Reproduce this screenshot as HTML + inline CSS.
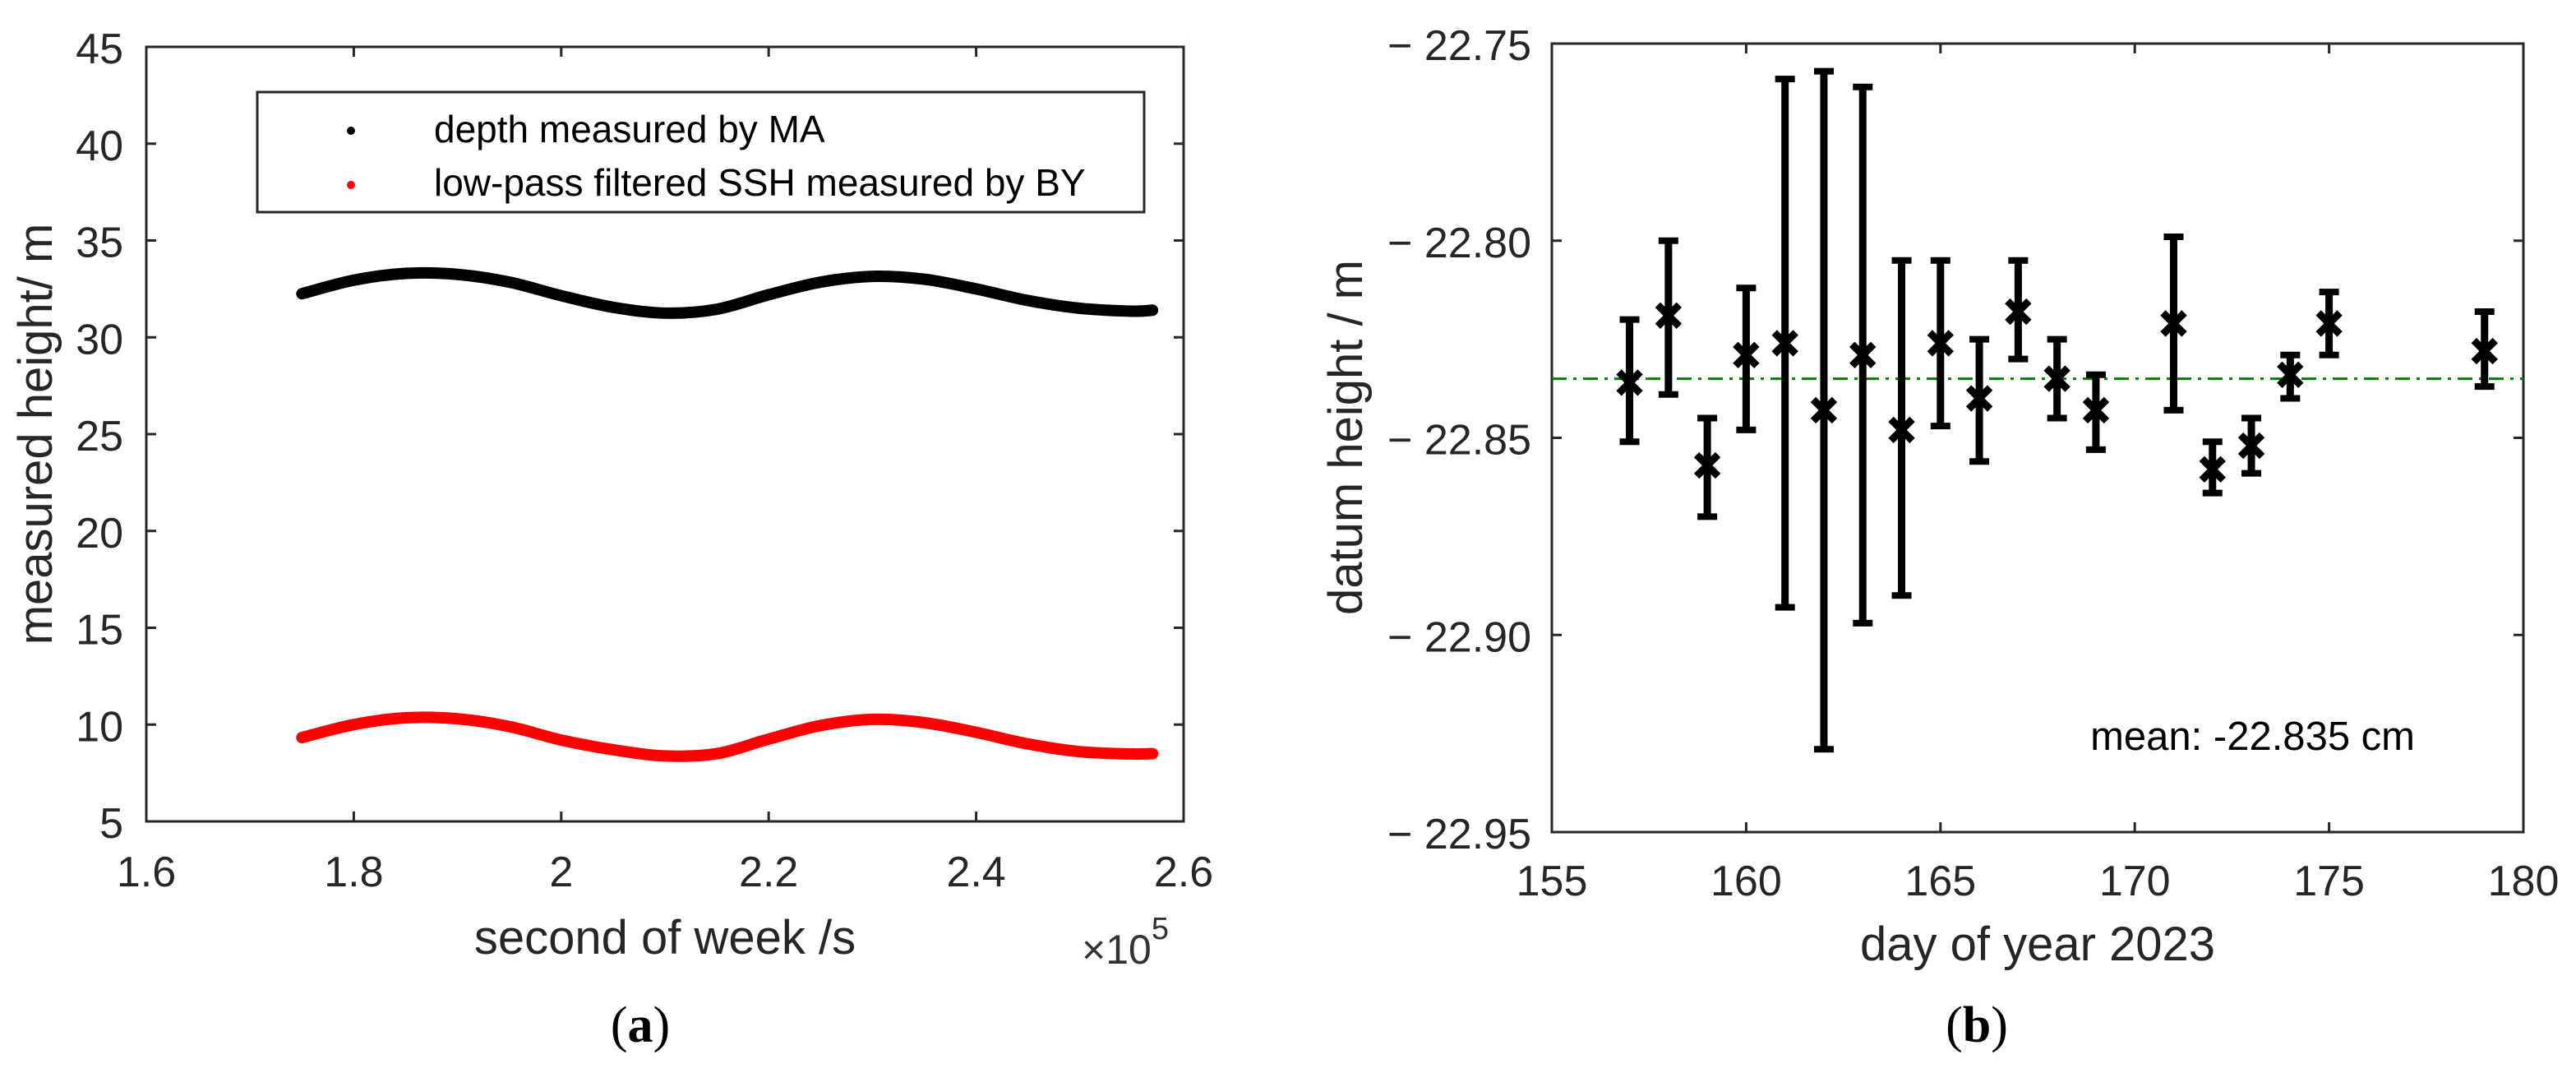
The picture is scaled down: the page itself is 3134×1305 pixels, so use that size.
<!DOCTYPE html>
<html><head><meta charset="utf-8"><style>
html,body{margin:0;padding:0;background:#fff;}
svg{display:block;}
text{font-family:"Liberation Sans",Arial,sans-serif;}
</style></head>
<body>
<svg id="fig" width="3134" height="1305" viewBox="0 0 3134 1305" xmlns="http://www.w3.org/2000/svg">
<rect width="3134" height="1305" fill="#fff"/>
<g id="chartA"></g>
<g id="chartB"></g>
</svg>
<script>
// ---- Chart (a) data ----
const secX = [1.75,1.80,1.85,1.90,1.95,2.00,2.05,2.10,2.15,2.20,2.25,2.30,2.35,2.40,2.45,2.50,2.55,2.57];
const depthMA = [32.25,32.95,33.3,33.25,32.85,32.15,31.55,31.25,31.45,32.2,32.85,33.15,33.0,32.5,31.9,31.5,31.35,31.4];
const sshBY = [9.33,10.0,10.35,10.3,9.9,9.2,8.7,8.38,8.5,9.25,9.95,10.27,10.1,9.6,9.0,8.6,8.48,8.5];
const aXTicks = [1.6,1.8,2,2.2,2.4,2.6];
const aXTickLabels = ["1.6","1.8","2","2.2","2.4","2.6"];
const aYTicks = [5,10,15,20,25,30,35,40,45];
const aYTickLabels = ["5","10","15","20","25","30","35","40","45"];
// ---- Chart (b) data ----
const days = [157,158,159,160,161,162,163,164,165,166,167,168,169,171,172,173,174,175,179];
const datum = [-22.836,-22.819,-22.857,-22.829,-22.826,-22.843,-22.829,-22.848,-22.826,-22.840,-22.818,-22.835,-22.843,-22.821,-22.858,-22.852,-22.834,-22.821,-22.828];
const errTop = [-22.820,-22.800,-22.845,-22.812,-22.759,-22.757,-22.761,-22.805,-22.805,-22.825,-22.805,-22.825,-22.834,-22.799,-22.851,-22.845,-22.829,-22.813,-22.818];
const errBot = [-22.851,-22.839,-22.870,-22.848,-22.893,-22.929,-22.897,-22.890,-22.847,-22.856,-22.830,-22.845,-22.853,-22.843,-22.864,-22.859,-22.840,-22.829,-22.837];
const meanVal = [-22.835];
const bXTicks = [155,160,165,170,175,180];
const bXTickLabels = ["155","160","165","170","175","180"];
const bYTicks = [-22.75,-22.80,-22.85,-22.90,-22.95];
const bYTickLabels = ["\u2212 22.75","\u2212 22.80","\u2212 22.85","\u2212 22.90","\u2212 22.95"];

const NS="http://www.w3.org/2000/svg";
function mk(parent,tag,attrs,txt){const e=document.createElementNS(NS,tag);for(const k in attrs)e.setAttribute(k,attrs[k]);if(txt!==undefined)e.textContent=txt;parent.appendChild(e);return e;}
const AX="#262626";

// ---------- Chart A ----------
(function(){
const g=document.getElementById('chartA');
const L=178,R=1440,T=57,B=999;
const xs=v=>L+(v-1.6)/(2.6-1.6)*(R-L);
const ys=v=>B-(v-5)/(45-5)*(B-T);
function smooth(xa,ya){
  const p=xa.map((x,i)=>[xs(x),ys(ya[i])]);
  let d="M"+p[0][0]+","+p[0][1];
  for(let i=0;i<p.length-1;i++){
    const p0=p[Math.max(0,i-1)],p1=p[i],p2=p[i+1],p3=p[Math.min(p.length-1,i+2)];
    const c1=[p1[0]+(p2[0]-p0[0])/6,p1[1]+(p2[1]-p0[1])/6];
    const c2=[p2[0]-(p3[0]-p1[0])/6,p2[1]-(p3[1]-p1[1])/6];
    d+=" C"+c1[0]+","+c1[1]+" "+c2[0]+","+c2[1]+" "+p2[0]+","+p2[1];
  }
  return d;
}
const s1=mk(g,'path',{d:smooth(secX,depthMA),fill:'none',stroke:'#000','stroke-width':14,'stroke-linecap':'round'});


const s2=mk(g,'path',{d:smooth(secX,sshBY),fill:'none',stroke:'#ff0000','stroke-width':14,'stroke-linecap':'round'});


const box=mk(g,'rect',{x:L,y:T,width:R-L,height:B-T,fill:'none',stroke:AX,'stroke-width':3});


aXTicks.forEach((v,i)=>{
  const x=xs(v);
  mk(g,'line',{x1:x,y1:B,x2:x,y2:B-12,stroke:AX,'stroke-width':3});
  mk(g,'line',{x1:x,y1:T,x2:x,y2:T+12,stroke:AX,'stroke-width':3});
  const t=mk(g,'text',{x:x,y:1078,'text-anchor':'middle','font-size':52,fill:AX},aXTickLabels[i]);
  
  
});
aYTicks.forEach((v,i)=>{
  const y=ys(v);
  mk(g,'line',{x1:L,y1:y,x2:L+12,y2:y,stroke:AX,'stroke-width':3});
  mk(g,'line',{x1:R,y1:y,x2:R-12,y2:y,stroke:AX,'stroke-width':3});
  const t=mk(g,'text',{x:150,y:y+20,'text-anchor':'end','font-size':52,fill:AX},aYTickLabels[i]);
  
  
});
const ex=mk(g,'text',{x:1316,y:1172,'font-size':50,fill:'#333'});


mk(ex,'tspan',{},'\u00d710');
mk(ex,'tspan',{dy:-30,'font-size':38},'5');
const xl=mk(g,'text',{x:809,y:1160,'text-anchor':'middle','font-size':58,fill:AX},'second of week /s');


const yl=mk(g,'text',{x:0,y:0,'text-anchor':'middle','font-size':58,fill:AX,transform:'translate(63,528) rotate(-90)'},'measured height/ m');


const lg=mk(g,'g',{});


mk(lg,'rect',{x:313,y:112,width:1079,height:146,fill:'#fff',stroke:AX,'stroke-width':3});
const le1=mk(lg,'g',{});


mk(le1,'circle',{cx:427,cy:159,r:5,fill:'#000'});
mk(le1,'text',{x:528,y:173,'font-size':46,fill:'#000'},'depth measured by MA');
const le2=mk(lg,'g',{});


mk(le2,'circle',{cx:427,cy:225,r:5,fill:'#ff0000'});
mk(le2,'text',{x:528,y:238,'font-size':46,fill:'#000'},'low-pass filtered SSH measured by BY');
const cap=mk(g,'text',{x:779,y:1267,'text-anchor':'middle','font-size':62,fill:'#000',style:'font-family:"Liberation Serif",serif'});


mk(cap,'tspan',{},'(');
mk(cap,'tspan',{'font-weight':'bold'},'a');
mk(cap,'tspan',{},')');
})();

// ---------- Chart B ----------
(function(){
const g=document.getElementById('chartB');
const L=1888,R=3070,T=53,B=1012;
const xs=v=>L+(v-155)/(180-155)*(R-L);
const ys=v=>T+(-22.75-v)/(0.2)*(B-T);
const box=mk(g,'rect',{x:L,y:T,width:R-L,height:B-T,fill:'none',stroke:AX,'stroke-width':3});


bXTicks.forEach((v,i)=>{
  const x=xs(v);
  mk(g,'line',{x1:x,y1:B,x2:x,y2:B-12,stroke:AX,'stroke-width':3});
  mk(g,'line',{x1:x,y1:T,x2:x,y2:T+12,stroke:AX,'stroke-width':3});
  const t=mk(g,'text',{x:x,y:1089,'text-anchor':'middle','font-size':52,fill:AX},bXTickLabels[i]);
  
  
});
bYTicks.forEach((v,i)=>{
  const y=ys(v);
  mk(g,'line',{x1:L,y1:y,x2:L+12,y2:y,stroke:AX,'stroke-width':3});
  mk(g,'line',{x1:R,y1:y,x2:R-12,y2:y,stroke:AX,'stroke-width':3});
  const t=mk(g,'text',{x:1863,y:y+20,'text-anchor':'end','font-size':52,fill:AX,'xml:space':'preserve'},bYTickLabels[i]);
  
  
});
const ml=mk(g,'line',{x1:L,y1:ys(meanVal[0]),x2:R,y2:ys(meanVal[0]),stroke:'#008000','stroke-width':3,'stroke-dasharray':'18,8,4,8'});


days.forEach((d,i)=>{
  const x=xs(d),yt=ys(errTop[i]),yb=ys(errBot[i]),yc=ys(datum[i]);
  const eg=mk(g,'g',{});
  
  
  mk(eg,'line',{x1:x,y1:yt,x2:x,y2:yb,stroke:'#000','stroke-width':9});
  mk(eg,'line',{x1:x-12,y1:yt,x2:x+12,y2:yt,stroke:'#000','stroke-width':8});
  mk(eg,'line',{x1:x-12,y1:yb,x2:x+12,y2:yb,stroke:'#000','stroke-width':8});
  const s=13;
  mk(eg,'path',{d:`M${x-s},${yc-s}L${x+s},${yc+s}M${x-s},${yc+s}L${x+s},${yc-s}`,stroke:'#000','stroke-width':9,fill:'none'});
});
const mt=mk(g,'text',{x:2938,y:912,'text-anchor':'end','font-size':49,fill:'#000'},'mean: -22.835 cm');


const xl=mk(g,'text',{x:2479,y:1168,'text-anchor':'middle','font-size':58,fill:AX},'day of year 2023');


const yl=mk(g,'text',{x:0,y:0,'text-anchor':'middle','font-size':58,fill:AX,transform:'translate(1657,532) rotate(-90)'},'datum height / m');


const cap=mk(g,'text',{x:2405,y:1267,'text-anchor':'middle','font-size':62,fill:'#000',style:'font-family:"Liberation Serif",serif'});


mk(cap,'tspan',{},'(');
mk(cap,'tspan',{'font-weight':'bold'},'b');
mk(cap,'tspan',{},')');
})();
</script>
</body></html>
